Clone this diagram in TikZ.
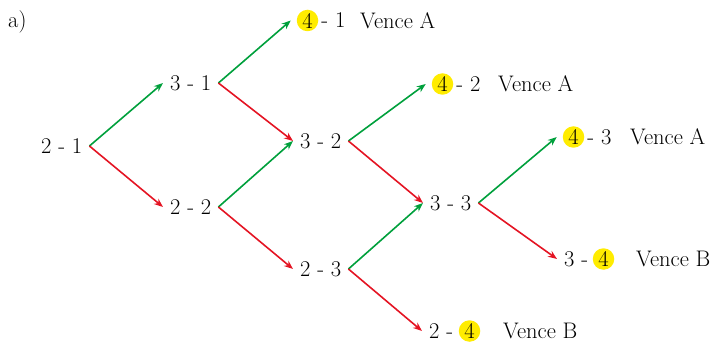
\documentclass[tikz,border=0pt]{standalone}
\usetikzlibrary{arrows.meta}
\definecolor{arrgreen}{RGB}{0,160,60}
\definecolor{arrred}{RGB}{228,20,35}
\definecolor{hlyellow}{RGB}{255,236,0}
\begin{document}
\begin{tikzpicture}[x=1pt,y=-1pt,
  every node/.style={font=\fontsize{22.5}{26}\selectfont},
  score/.style={inner xsep=7pt,inner ysep=0pt,anchor=west},
  plain/.style={inner sep=0pt,anchor=west},
  hl/.style={circle,fill=hlyellow,inner sep=0pt,minimum size=21.5pt,outer sep=6pt},
  conn/.style={line width=1.6pt,-{Stealth[length=9pt,width=7pt]}},
  win/.style={conn,arrgreen},
  lose/.style={conn,arrred}]
\useasboundingbox (0,0) rectangle (712,342);
\node[inner sep=0pt,anchor=base west] (lbl) at (8,28) {a)};
% inner scores
\node[score] (n21) at (34,146) {2 - 1};
\node[score] (n31) at (163,83) {3 - 1};
\node[score] (n22) at (163,207) {2 - 2};
\node[score] (n32) at (293,141) {3 - 2};
\node[score] (n23) at (293,269) {2 - 3};
\node[score] (n33) at (423,203) {3 - 3};
% leaves
\node[hl] (c41) at (307.5,20.5) {4};
\node[plain] (t41) at ([xshift=-3pt]c41.east) {- 1};
\node[plain] (v41) at (360,20.5) {Vence A};
\node[hl] (c42) at (442.5,84) {4};
\node[plain] (t42) at ([xshift=-3pt]c42.east) {- 2};
\node[plain] (v42) at (498,84) {Vence A};
\node[hl] (c43) at (573.5,137) {4};
\node[plain] (t43) at ([xshift=-3pt]c43.east) {- 3};
\node[plain] (v43) at (630,137) {Vence A};
\node[score] (t34) at (557,259) {3 -};
\node[hl] (c34) at (603.5,259) {4};
\node[plain] (v34) at (636,259) {Vence B};
\node[score] (t24) at (422,331) {2 -};
\node[hl] (c24) at (469.5,331) {4};
\node[plain] (v24) at (503,331) {Vence B};
% connectors
\draw[win] (n21.east) -- (n31.west);
\draw[lose] (n21.east) -- (n22.west);
\draw[win] (n31.east) -- (c41.west);
\draw[lose] (n31.east) -- (n32.west);
\draw[win] (n22.east) -- (n32.west);
\draw[lose] (n22.east) -- (n23.west);
\draw[win] (n32.east) -- (c42.west);
\draw[lose] (n32.east) -- (n33.west);
\draw[win] (n23.east) -- (n33.west);
\draw[lose] (n23.east) -- (t24.west);
\draw[win] (n33.east) -- (c43.west);
\draw[lose] (n33.east) -- (t34.west);
\end{tikzpicture}
\end{document}
